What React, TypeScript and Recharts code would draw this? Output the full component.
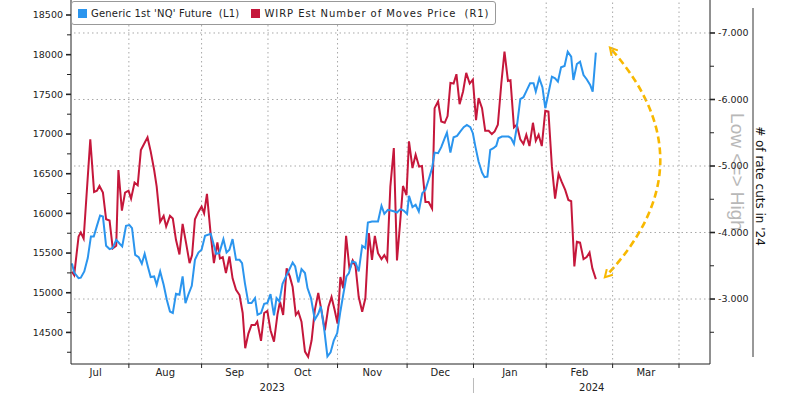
import React from 'react';
import { LineChart, Line, XAxis, YAxis, ReferenceLine } from 'recharts';

// ---- x axis: weekday index from 6 Jul 2023 (index 0) ----
const monthEdges = [-3, 18, 41, 62, 84, 106, 127, 150, 171, 192, 213];
const monthNames = ['Jul', 'Aug', 'Sep', 'Oct', 'Nov', 'Dec', 'Jan', 'Feb', 'Mar'];
const yearEdges = [-0.3, 127, 201.8];
const yearNames = ['2023', '2024'];

// ---- y axes ----
const leftMajor = [14500, 15000, 15500, 16000, 16500, 17000, 17500, 18000, 18500];
const leftMinor = [14250, 14750, 15250, 15750, 16250, 16750, 17250, 17750, 18250];
const rightMajor = [-7, -6, -5, -4, -3];
const rightMinor = [-6.5, -5.5, -4.5, -3.5, -2.5];

// ---- Generic 1st 'NQ' Future (L1) ----
const nqX = [
  0, 0.7, 2.1, 2.8, 3.9, 5.0, 6.0, 6.9, 7.9, 8.9, 9.8, 10.8, 11.9, 12.9, 14.0, 15.1, 15.9, 17.1, 18.2, 19.0,
  20.0, 21.1, 22.1, 23.0, 24.0, 24.9, 26.0, 26.8, 27.9, 29.0, 30.0, 31.0, 31.9, 32.9, 34.0, 35.0, 35.9, 36.8, 37.9, 38.9,
  40.0, 41.0, 42.1,
  43.9, 44.7, 45.6, 46.6, 47.9, 48.9, 49.8, 50.8, 51.9, 53.0, 53.8, 54.7, 55.8, 56.8, 57.9, 58.7, 59.8, 60.8, 61.8, 62.8,
  63.9, 64.7, 65.6, 66.6, 67.7, 68.7, 69.8, 70.6, 71.6, 72.6, 73.7, 74.5, 75.6, 76.8, 77.9, 78.7, 79.8, 80.8, 81.8, 82.8,
  83.9, 84.9, 85.8, 86.8,
  87.6, 88.6, 89.7, 90.7, 91.8, 92.8, 93.6, 94.9, 96.8, 97.9, 98.8, 99.9, 100.9, 102.0, 102.8, 103.9, 104.9, 106.0, 106.6, 107.7,
  108.7, 109.7, 110.8, 111.8, 112.8, 113.9, 114.7, 115.8, 116.8, 117.9, 118.6, 119.7, 120.7, 121.8, 122.8, 123.9, 124.9, 126.0, 126.8,
  127.6, 128.6, 129.7, 130.5, 131.4, 132.3, 133.3, 134.2, 134.9, 136.0, 137.0, 138.1, 138.9, 139.8, 140.7, 141.8, 142.8, 143.9, 144.9, 146.0,
  146.7, 147.8, 148.8, 149.7, 150.7, 151.8, 152.8, 153.7, 154.7, 155.8, 156.8, 157.9, 158.6, 159.7, 160.7, 161.8, 162.8, 163.9, 164.7, 165.7,
];
const nqY = [
  15370, 15255, 15185, 15190, 15268, 15437, 15709, 15709, 15843, 15973, 15960, 15592, 15550, 15563, 15667, 15617, 15583, 15843, 15852, 15814,
  15478, 15449, 15365, 15491, 15331, 15197, 15205, 15101, 15268, 15101, 14912, 14764, 14744, 14987, 14975, 15205, 14870, 14975, 15088, 15415,
  15507, 15541, 15717,
  15743, 15626, 15491, 15500, 15676, 15507, 15541, 15676, 15415, 15415, 15374, 15122, 14870, 14870, 14933, 14723, 14744, 14861, 14870, 14983,
  14714, 14933, 14890, 15113, 15205, 15289, 15381, 15331, 15130, 15298, 15248, 15059, 14933, 14660, 14735, 14827, 14534, 14198, 14248, 14396,
  14492, 14764, 14975, 15205,
  15248, 15394, 15381, 15268, 15592, 15563, 15885, 15897, 15897, 16095, 15994, 16045, 16036, 16023, 16011, 16054, 16036, 15994, 16221, 16079,
  16108, 16023, 16255, 16297, 16423, 16570, 16766, 16759, 16834, 16947, 17018, 16766, 16960, 16976, 17031, 17086, 17115, 17086, 17010,
  16842, 16653, 16514, 16456, 16464, 16800, 16822, 16851, 16947, 16968, 16968, 16968, 16947, 16876, 17086, 17439, 17464, 17556, 17640, 17640,
  17534, 17703, 17590, 17325, 17514, 17723, 17703, 17660, 17841, 17858, 18038, 17975, 17681, 17883, 17912, 17744, 17690, 17619, 17534, 18025,
];

// ---- WIRP Est Number of Moves Price (R1) ----
const wirpX = [
  0, 0.7, 2.1, 2.8, 3.7, 5.8, 7.0, 7.9, 8.7, 9.8, 10.8, 11.9, 12.9, 14.0, 14.7, 15.8, 16.8, 17.9, 18.7, 19.8,
  20.8, 21.8, 22.8, 23.9, 24.9, 26.0, 26.8, 27.9, 29.0, 29.8, 31.0, 31.9, 32.9, 34.0, 35.0, 36.1, 37.2, 38.0, 38.9, 40.0,
  41.0, 41.8, 42.7,
  43.9, 44.9, 46.0, 46.8, 47.7, 48.7, 49.8, 50.8, 51.9, 53.0, 54.0, 54.8, 55.8, 56.8, 57.9, 58.6, 59.8, 60.8, 61.8, 62.8,
  63.9, 65.0, 65.8, 66.8, 67.9, 68.9, 69.8, 70.8, 71.6, 72.6, 73.7, 74.7, 75.8, 76.8, 77.9, 78.9, 80.0, 81.1, 82.1, 83.1,
  84.0, 84.9, 85.8, 86.7,
  87.8, 88.8, 89.7, 90.7, 91.8, 92.8, 93.9, 94.9, 95.8, 96.8, 97.9, 98.8, 99.7, 100.7, 101.8, 102.8, 103.7, 104.7, 105.8, 106.6,
  107.7, 108.7, 109.8, 110.7, 111.8, 112.8, 113.9, 114.7, 115.8, 116.8, 117.9, 118.8, 119.7, 120.7, 121.6, 122.6, 123.7, 124.7, 125.8, 126.8,
  127.8, 128.6, 129.7, 130.7, 131.8, 132.8, 133.7, 134.7, 135.8, 136.8, 137.9, 138.7, 139.8, 140.7, 141.8, 142.8, 143.7, 144.7, 145.8, 146.7,
  147.6, 148.6, 149.7, 150.7, 151.8, 152.8, 153.9, 154.9, 156.0, 157.0, 157.9, 158.9, 159.7, 160.7, 161.8, 162.8, 163.7, 164.6, 165.7,
];
const wirpY = [
  -3.41, -3.36, -3.94, -4.0, -3.91, -5.4, -4.61, -4.63, -4.7, -4.6, -4.2, -4.18, -3.76, -3.8, -4.94, -4.33, -4.6, -4.63, -4.51, -4.75,
  -4.71, -5.24, -5.33, -5.43, -5.22, -4.94, -4.69, -4.16, -4.25, -4.09, -4.25, -4.21, -3.89, -3.67, -4.13, -3.84, -3.54, -3.66, -4.2, -4.31,
  -4.39, -4.29, -4.58,
  -3.96, -3.54, -3.85, -3.61, -3.63, -3.39, -3.64, -3.31, -3.14, -3.06, -2.79, -2.26, -2.48, -2.61, -2.61, -2.66, -2.37, -2.79, -2.82, -2.53,
  -2.36, -2.77, -2.96, -2.76, -3.46, -3.34, -3.18, -2.76, -2.81, -2.66, -2.21, -2.13, -2.38, -2.83, -3.09, -2.83, -2.53, -2.88, -3.03, -2.83,
  -2.63, -3.33, -3.16, -3.95,
  -3.44, -3.58, -3.49, -3.03, -2.81, -3.01, -3.99, -3.59, -3.95, -3.69, -3.6, -3.66, -3.58, -4.69, -5.27, -3.58, -4.09, -4.7, -4.56, -5.37,
  -4.97, -5.17, -4.99, -5.0, -4.46, -4.46, -4.36, -5.87, -5.97, -5.67, -5.65, -5.75, -6.25, -6.24, -6.38, -5.93, -6.12, -6.4, -6.24, -6.3,
  -5.69, -6.02, -5.87, -5.53, -5.53, -5.48, -5.52, -5.62, -6.24, -6.72, -6.28, -6.29, -5.58, -5.62, -5.4, -5.33, -5.47, -5.3, -5.65, -5.38,
  -5.47, -5.3, -5.83, -5.82, -4.99, -4.51, -4.88, -4.76, -4.64, -4.49, -4.47, -3.49, -3.86, -3.85, -3.6, -3.63, -3.7, -3.46, -3.3,
];

const BLUE = '#2B95EE';
const RED = '#C5173B';
const FONT = 'DejaVu Sans';
const GRID = '#a8a8a8';

const data = [
  ...nqX.map((x, i) => ({ x, nq: nqY[i] })),
  ...wirpX.map((x, i) => ({ x, wirp: wirpY[i] })),
].sort((a, b) => a.x - b.x);

const monthStarts = monthEdges.slice(1, 10);
const monthCenters = monthNames.map((_, i) => (monthEdges[i] + monthEdges[i + 1]) / 2);
const yearCenters = yearNames.map((_, i) => (yearEdges[i] + yearEdges[i + 1]) / 2);
const xTicks = [...monthStarts, ...monthCenters, ...yearCenters].sort((a, b) => a - b);

const XTick = (p: any) => {
  const v = p.payload.value;
  const mi = monthCenters.indexOf(v);
  const yi = yearCenters.indexOf(v);
  if (mi >= 0) {
    return (
      <text x={p.x} y={p.y + 12} textAnchor="middle" fontSize={10} fontFamily={FONT} fill="#222">
        {monthNames[mi]}
      </text>
    );
  }
  if (yi >= 0) {
    return (
      <text x={p.x} y={p.y + 27} textAnchor="middle" fontSize={10} fontFamily={FONT} fill="#222">
        {yearNames[yi]}
      </text>
    );
  }
  return (
    <g>
      <line x1={p.x} x2={p.x} y1={p.y} y2={p.y + 4} stroke="#222" strokeWidth={1} />
      {v === yearEdges[1] && <line x1={p.x} x2={p.x} y1={p.y + 14} y2={p.y + 29} stroke="#bbb" strokeWidth={1} />}
    </g>
  );
};

const LeftTick = (p: any) => {
  const v = p.payload.value;
  const major = leftMajor.includes(v);
  return (
    <g>
      <line x1={p.x} x2={p.x - (major ? 5 : 4)} y1={p.y} y2={p.y} stroke="#222" strokeWidth={major ? 1.6 : 1} />
      {major && (
        <text x={p.x - 8} y={p.y + 3.3} textAnchor="end" fontSize={9.5} fontFamily={FONT} fill="#222">
          {v}
        </text>
      )}
    </g>
  );
};

const RightTick = (p: any) => {
  const v = p.payload.value;
  const major = rightMajor.includes(v);
  return (
    <g>
      <line x1={p.x} x2={p.x + (major ? 5 : 4)} y1={p.y} y2={p.y} stroke="#222" strokeWidth={major ? 1.6 : 1} />
      {major && (
        <text x={p.x + 8} y={p.y + 3.3} textAnchor="start" fontSize={9.5} fontFamily={FONT} fill="#222">
          {v.toFixed(3)}
        </text>
      )}
    </g>
  );
};

export default function App() {
  return (
    <div style={{ position: 'absolute', left: 0, top: 0, width: 800, height: 394, background: '#fff' }}>
      <svg width={800} height={394} style={{ position: 'absolute', left: 0, top: 0 }}>
        <defs>
          <marker id="ah" viewBox="0 0 10 10" refX="5" refY="5" markerWidth="4" markerHeight="4" orient="auto-start-reverse">
            <path d="M1,1 L8,5 L1,9" fill="none" stroke="#F8B800" strokeWidth="2" />
          </marker>
        </defs>
        <path
          d="M612,50 C682,130 672,205 607,275"
          fill="none"
          stroke="#F8B800"
          strokeWidth={2.6}
          strokeDasharray="7 4"
          markerStart="url(#ah)"
          markerEnd="url(#ah)"
        />
        <text
          x={737}
          y={172}
          transform="rotate(90 737 172)"
          textAnchor="middle"
          dominantBaseline="central"
          fontSize={19}
          fontFamily="Liberation Sans"
          fill="#b8b8b8"
        >
          {'Low <=> High'}
        </text>
        <line x1={753} x2={753} y1={8} y2={357} stroke="#333" strokeWidth={1} />
        <text
          x={760}
          y={186}
          transform="rotate(90 760 186)"
          textAnchor="middle"
          dominantBaseline="central"
          fontSize={12}
          fontFamily={FONT}
          fill="#111"
        >
          {"# of rate cuts in '24"}
        </text>
      </svg>
      <div style={{ position: 'absolute', left: 0, top: 0 }}>
        <LineChart width={800} height={394} data={data} margin={{ top: 0, right: 0, bottom: 0, left: 0 }}>
          <XAxis
            type="number"
            dataKey="x"
            domain={[yearEdges[0], yearEdges[2]]}
            allowDataOverflow
            ticks={xTicks}
            interval={0}
            tick={XTick}
            tickLine={false}
            tickSize={0}
            tickMargin={0}
            height={30}
            axisLine={{ stroke: '#222' }}
          />
          <YAxis
            yAxisId="L"
            orientation="left"
            width={71}
            domain={[14102, 18689]}
            allowDataOverflow
            ticks={[...leftMinor, ...leftMajor].sort((a, b) => a - b)}
            interval={0}
            tick={LeftTick}
            tickLine={false}
            tickSize={0}
            tickMargin={0}
            axisLine={{ stroke: '#222' }}
          />
          <YAxis
            yAxisId="R"
            orientation="right"
            width={90}
            reversed
            domain={[-7.496, -2.023]}
            allowDataOverflow
            ticks={[...rightMajor, ...rightMinor].sort((a, b) => a - b)}
            interval={0}
            tick={RightTick}
            tickLine={false}
            tickSize={0}
            tickMargin={0}
            axisLine={{ stroke: '#222' }}
          />
          {monthStarts.map((m) => (
            <ReferenceLine key={'v' + m} x={m} yAxisId="L" stroke={GRID} strokeDasharray="1.5 3" />
          ))}
          {rightMajor.map((r) => (
            <ReferenceLine key={'h' + r} y={r} yAxisId="R" stroke={GRID} strokeDasharray="1.5 3" />
          ))}
          <Line
            yAxisId="R"
            dataKey="wirp"
            type="linear"
            stroke={RED}
            strokeWidth={2}
            dot={false}
            connectNulls
            isAnimationActive={false}
          />
          <Line
            yAxisId="L"
            dataKey="nq"
            type="linear"
            stroke={BLUE}
            strokeWidth={2}
            dot={false}
            connectNulls
            isAnimationActive={false}
          />
        </LineChart>
      </div>
      <div
        style={{
          position: 'absolute',
          left: 71,
          top: 1,
          height: 22,
          border: '1px solid #999',
          borderRadius: 3,
          background: '#fff',
          display: 'flex',
          alignItems: 'center',
          padding: '0 6px',
          fontFamily: FONT,
          fontSize: 10,
          color: '#222',
          whiteSpace: 'pre',
        }}
      >
        <span style={{ width: 9, height: 9, background: BLUE, display: 'inline-block', marginRight: 4 }} />
        <span style={{ letterSpacing: 0.2 }}>{"Generic 1st 'NQ' Future  (L1)"}</span>
        <span style={{ width: 9, height: 9, background: RED, display: 'inline-block', marginLeft: 12, marginRight: 4 }} />
        <span style={{ letterSpacing: 0.95 }}>{'WIRP Est Number of Moves Price  (R1)'}</span>
      </div>
    </div>
  );
}
